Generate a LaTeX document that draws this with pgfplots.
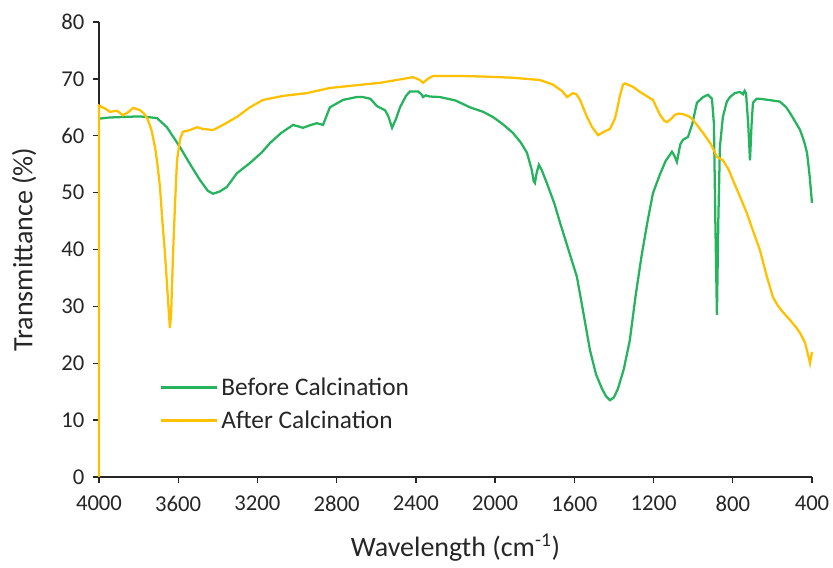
\documentclass[border=0pt]{standalone}
\usepackage{pgfplots}
\pgfplotsset{compat=1.18}
\usepackage{fontspec}
\setmainfont{Carlito}
\definecolor{beforegreen}{HTML}{25B35E}
\definecolor{aftergold}{HTML}{FFC000}

\begin{document}
\begin{tikzpicture}
\begin{axis}[
  at={(74.25pt,68.25pt)}, anchor=south west,
  scale only axis,
  width=534.75pt, height=341.25pt,
  x dir=reverse,
  xmin=400, xmax=4000, ymin=0, ymax=80,
  xtick={400,800,...,4000}, ytick={0,10,...,80},
  axis x line*=bottom, axis y line*=left,
  axis line style={black!85, line width=1pt},
  tick style={black!85, line width=1pt},
  tick align=outside, major tick length=4.5pt,
  xticklabel style={/pgf/number format/set thousands separator={}, yshift=-6pt},
  yticklabel style={xshift=-3pt},
  /pgf/number format/assume math mode=true,
  ticklabel style={font=\fontsize{17}{20}\selectfont, text=black!85},
  xlabel={Wavelength (cm\textsuperscript{-1})},
  ylabel={Transmittance (\%)},
  xlabel style={yshift=-10pt},
  ylabel style={yshift=12pt},
  label style={font=\fontsize{21}{24}\selectfont, text=black!85},
  clip=false,
  legend style={at={(0.085,0.23)}, anchor=north west, draw=none, fill=none,
    font=\fontsize{19}{22}\selectfont, text=black!85, row sep=6pt,
    inner xsep=0pt},
  legend cell align=left,
  legend image code/.code={\draw[#1, line width=2.2pt] (0pt,0pt) -- (42pt,0pt);},
]
\addplot[beforegreen, line width=1.7pt] coordinates {
(4000,63) (3950,63.2) (3879,63.3) (3800,63.4) (3758,63.3) (3707,63.1) (3657,61.5)
(3591,58) (3540,55) (3490,52.2) (3450,50.3) (3424,49.8) (3390,50.2) (3354,51)
(3304,53.4) (3238,55.2) (3180,57) (3137,58.7) (3080,60.5) (3020,61.9) (2970,61.4)
(2930,61.9) (2900,62.2) (2869,61.9) (2834,65) (2768,66.3) (2700,66.8) (2667,66.8)
(2630,66.5) (2596,65.2) (2556,64.5) (2540,63.5) (2520,61.4) (2500,63) (2480,65)
(2450,67) (2430,67.8) (2389,67.8) (2370,67.2) (2364,66.8) (2350,67.1) (2330,66.9)
(2278,66.8) (2200,66.2) (2127,65) (2060,64.2) (2011,63.3) (1960,62) (1910,60.5)
(1870,58.8) (1839,57) (1815,54) (1805,52) (1799,51.7) (1790,53.5) (1779,54.9)
(1765,54) (1739,51.7) (1700,48) (1672,44.7) (1630,40) (1587,35.2) (1555,29)
(1521,22.3) (1490,18) (1460,15.5) (1440,14.2) (1420,13.5) (1400,14) (1380,15.5)
(1350,19) (1320,24) (1290,32) (1260,39) (1230,45) (1203,49.9) (1170,53) (1140,55.5)
(1107,57.2) (1095,56.5) (1082,55.4) (1065,58.5) (1051,59.3) (1026,59.8) (1005,62)
(981,65.8) (950,66.8) (925,67.2) (905,66.5) (895,62) (888,45) (880,28.5) (873,45)
(865,58) (850,63.3) (830,66) (814,66.8) (790,67.5) (764,67.7) (748,67.3) (740,67.9)
(733,67.5) (722,62) (713,55.7) (705,62) (698,65.8) (680,66.5) (663,66.5) (620,66.3)
(562,66) (530,65) (511,64) (485,62.5) (460,61) (440,59) (425,57) (412,53) (400,48.2)
};
\addlegendentry{Before Calcination}
\addplot[aftergold, line width=1.7pt] coordinates {
(4000,0) (4000,65.3) (3970,64.8) (3944,64.2) (3909,64.4) (3879,63.6) (3850,64.2)
(3828,64.9) (3793,64.5) (3770,63.8) (3753,62.8) (3735,61) (3717,58) (3705,55)
(3692,51) (3680,45) (3667,39.4) (3655,33) (3647,28.8) (3642,26.2) (3636,28.5)
(3626,39.4) (3616,48) (3606,55.7) (3590,59.5) (3576,60.7) (3541,61) (3505,61.5)
(3475,61.2) (3424,61) (3374,61.9) (3304,63.3) (3238,65) (3172,66.3) (3071,67)
(2950,67.5) (2834,68.4) (2697,68.9) (2581,69.3) (2531,69.6) (2415,70.3) (2380,69.8)
(2364,69.3) (2340,70) (2314,70.5) (2162,70.5) (2050,70.4) (1910,70.2) (1774,69.8)
(1708,69) (1660,67.8) (1637,66.8) (1607,67.5) (1590,67.3) (1571,66.3) (1536,63.3)
(1510,61.5) (1480,60.1) (1450,60.7) (1420,61.2) (1395,63) (1385,64.5) (1370,67)
(1354,69) (1344,69.2) (1304,68.6) (1268,67.7) (1218,66.6) (1203,66.3) (1168,63.7)
(1145,62.6) (1132,62.4) (1110,63) (1092,63.7) (1070,63.9) (1051,63.8) (1020,63.4)
(1001,62.8) (950,60.5) (910,58.5) (880,56.3) (850,55.7) (820,54) (799,52.2) (760,49)
(729,46.4) (700,43.5) (663,39.9) (630,35.5) (597,31.6) (570,30) (547,29) (511,27.6)
(480,26.3) (460,25.3) (435,23.6) (420,21.5) (410,20) (405,21) (400,22)
};
\addlegendentry{After Calcination}
\end{axis}
\pgfresetboundingbox
\path[use as bounding box] (0,0) rectangle (624.75pt,426pt);
\end{tikzpicture}
\end{document}
